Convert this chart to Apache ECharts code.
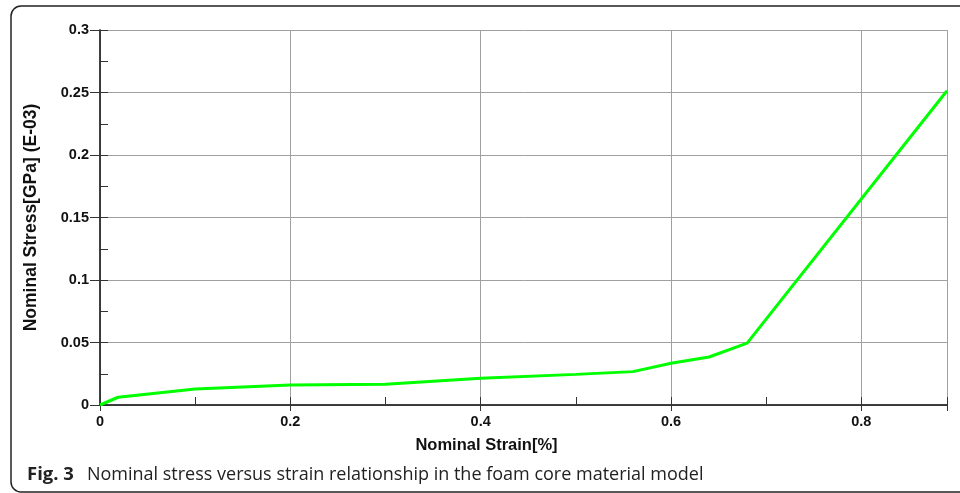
<!DOCTYPE html>
<html>
<head>
<meta charset="utf-8">
<script src="https://cdn.jsdelivr.net/npm/echarts@6/dist/echarts.min.js"></script>
<style>
html, body { margin: 0; padding: 0; background: #fff; }
#main { width: 960px; height: 493px; }
</style>
</head>
<body>
<div id="main"></div>
<script>
// 数据：名义应变 / 名义应力
var strain = [0, 0.019, 0.1, 0.2, 0.3, 0.4, 0.5, 0.56, 0.6, 0.64, 0.68, 0.89];
var stress = [0, 0.0062, 0.0128, 0.016, 0.0166, 0.0214, 0.0245, 0.0267, 0.0334, 0.0384, 0.0495, 0.2514];
var xTicks = [0, 0.2, 0.4, 0.6, 0.8];
var yTicks = [0, 0.05, 0.1, 0.15, 0.2, 0.25, 0.3];

var xMax = 0.89;
var yMax = 0.3;

var points = [];
for (var i = 0; i < strain.length; i++) {
    points.push([strain[i], stress[i]]);
}

var labelFont = { color: '#111', fontWeight: 'bold', fontFamily: 'Liberation Sans', fontSize: 14.5 };
var axisDark = { color: '#333', width: 1.5 };

var chart = echarts.init(document.getElementById('main'));

var option = {
    backgroundColor: '#fff',
    animation: false,
    grid: { left: 100, top: 30, right: 13, bottom: 88 },
    xAxis: [{
        // 主刻度 + 标签
        type: 'value', position: 'bottom',
        min: 0, max: xMax, interval: 0.2,
        name: 'Nominal Strain[%]', nameLocation: 'middle', nameGap: 32,
        nameTextStyle: { color: '#111', fontWeight: 'bold', fontFamily: 'Liberation Sans', fontSize: 16.5, padding: [0, 74, 0, 0] },
        axisLine: { show: true, lineStyle: axisDark },
        axisTick: { show: true, inside: false, length: 5, lineStyle: { color: '#333' } },
        axisLabel: Object.assign({ margin: 9, showMaxLabel: false, formatter: function (v) { return xTicks.indexOf(Math.round(v * 10) / 10) >= 0 ? String(v) : ''; } }, labelFont),
        splitLine: { show: true, lineStyle: { color: '#a0a0a0', width: 1 } }
    }, {
        // 次刻度
        type: 'value', position: 'bottom',
        min: 0, max: xMax, interval: 0.1,
        axisLine: { show: false },
        axisTick: { show: true, inside: true, length: 8, lineStyle: { color: '#333' } },
        axisLabel: { show: false },
        splitLine: { show: false }
    }, {
        // 上边框
        type: 'value', position: 'top',
        min: 0, max: xMax, interval: 0.2,
        axisLine: { show: true, lineStyle: axisDark },
        axisTick: { show: true, inside: true, length: 6, lineStyle: { color: '#333' } },
        axisLabel: { show: false },
        splitLine: { show: false }
    }],
    yAxis: [{
        type: 'value', position: 'left',
        min: 0, max: yMax, interval: 0.05,
        name: 'Nominal Stress[GPa] (E-03)', nameLocation: 'middle', nameGap: 60,
        nameTextStyle: { color: '#111', fontWeight: 'bold', fontFamily: 'Liberation Sans', fontSize: 17.5 },
        axisLine: { show: true, lineStyle: axisDark },
        axisTick: { show: true, inside: false, length: 10, lineStyle: { color: '#333' } },
        axisLabel: Object.assign({ margin: 11 }, labelFont),
        splitLine: { show: true, lineStyle: { color: '#a0a0a0', width: 1 } }
    }, {
        type: 'value', position: 'left',
        min: 0, max: yMax, interval: 0.025,
        axisLine: { show: false },
        axisTick: { show: true, inside: true, length: 8, lineStyle: { color: '#333' } },
        axisLabel: { show: false },
        splitLine: { show: false }
    }, {
        // 右边框
        type: 'value', position: 'right',
        min: 0, max: yMax, interval: 0.05,
        axisLine: { show: true, lineStyle: axisDark },
        axisTick: { show: true, inside: true, length: 6, lineStyle: { color: '#333' } },
        axisLabel: { show: false },
        splitLine: { show: false }
    }],
    series: [{
        name: 'stress',
        type: 'line',
        xAxisIndex: 0,
        yAxisIndex: 0,
        data: points,
        showSymbol: false,
        lineStyle: { color: '#00ff00', width: 3 },
        z: 5
    }],
    graphic: [{
        type: 'rect',
        shape: { x: 11, y: 6, width: 1000, height: 486, r: 10 },
        style: { fill: 'none', stroke: '#222', lineWidth: 1.5 },
        silent: true
    }, {
        type: 'text',
        left: 27, top: 465,
        style: {
            text: '{b|Fig. 3}{n|Nominal stress versus strain relationship in the foam core material model}',
            rich: {
                b: { fontFamily: 'Open Sans', fontWeight: 'bold', fontSize: 18.5, fill: '#222', padding: [0, 13, 0, 0] },
                n: { fontFamily: 'Open Sans', fontSize: 18, fill: '#222' }
            }
        }
    }]
};

chart.setOption(option);
</script>
</body>
</html>
